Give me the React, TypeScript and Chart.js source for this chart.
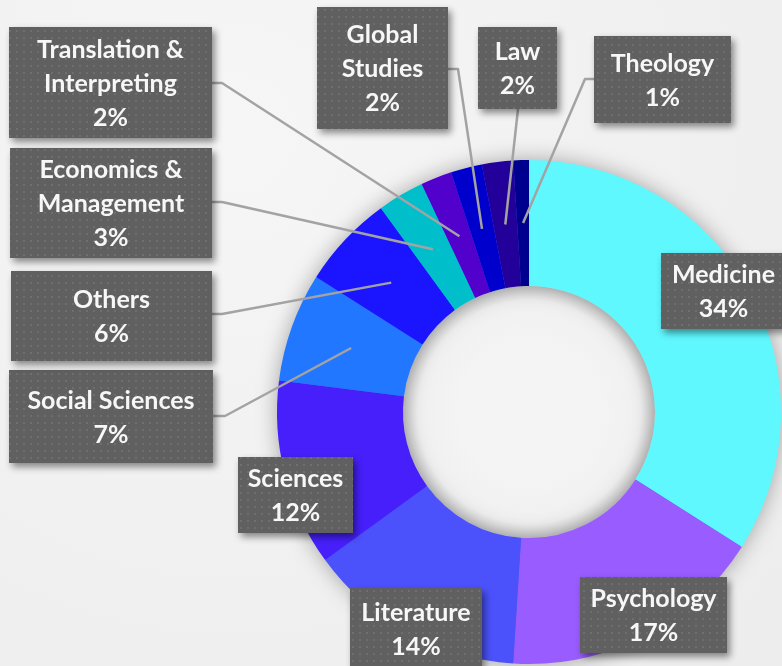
import { useEffect, useRef } from 'react';
import { Chart, registerables } from 'chart.js';

Chart.register(...registerables);

const categories = [
  'Medicine',
  'Psychology',
  'Literature',
  'Sciences',
  'Social Sciences',
  'Others',
  'Economics & Management',
  'Translation & Interpreting',
  'Global Studies',
  'Law',
  'Theology',
];
const shares = [34, 17, 14, 12, 7, 6, 3, 2, 2, 2, 1];
const labelLines = [
  ['Medicine'],
  ['Psychology'],
  ['Literature'],
  ['Sciences'],
  ['Social Sciences'],
  ['Others'],
  ['Economics &', 'Management'],
  ['Translation &', 'Interpreting'],
  ['Global', 'Studies'],
  ['Law'],
  ['Theology'],
];
const sliceColors = [
  '#5ff8fe',
  '#995cff',
  '#4b52fc',
  '#461ffb',
  '#2177ff',
  '#1a14ff',
  '#00bfcb',
  '#5200cc',
  '#0000cc',
  '#220099',
  '#00008f',
];

// label box layout: [x, y, w, h]
const boxes: number[][] = [
  [661, 253, 125, 76],
  [580, 577, 147, 76],
  [350, 588, 132, 82],
  [238, 457, 115, 76],
  [9, 370, 204, 93],
  [11, 271, 201, 90],
  [10, 148, 202, 110],
  [9, 27, 203, 111],
  [317, 7, 131, 122],
  [478, 27, 79, 82],
  [594, 36, 137, 87],
];
// leader line: start point on box edge, elbow point (null = no line)
const leaders: (number[] | null)[] = [
  null,
  null,
  null,
  null,
  [213, 416, 225, 416],
  [212, 314, 222, 314],
  [212, 202, 222, 202],
  [212, 83, 222, 83],
  [448, 69, 458, 69],
  [518, 109, 518, 109],
  [594, 79, 585, 79],
];

function makePattern(ctx: CanvasRenderingContext2D) {
  const c = document.createElement('canvas');
  c.width = 7;
  c.height = 7;
  const p = c.getContext('2d')!;
  p.fillStyle = '#606060';
  p.fillRect(0, 0, 7, 7);
  p.fillStyle = '#6e6e6e';
  p.fillRect(2, 2, 2, 2);
  return ctx.createPattern(c, 'repeat');
}

const decorPlugin = {
  id: 'decor',
  beforeDatasetsDraw(chart: any) {
    const meta = chart.getDatasetMeta(0);
    const arc = meta.data[0];
    if (!arc) return;
    const { x, y, outerRadius, innerRadius } = arc.getProps(['x', 'y', 'outerRadius', 'innerRadius']);
    const ctx = chart.ctx as CanvasRenderingContext2D;
    // hole shading
    ctx.save();
    const g = ctx.createRadialGradient(x, y, innerRadius * 0.55, x, y, innerRadius);
    g.addColorStop(0, '#f4f4f4');
    g.addColorStop(0.75, '#f0f0f0');
    g.addColorStop(1, '#d4d4d4');
    ctx.beginPath();
    ctx.arc(x, y, innerRadius, 0, Math.PI * 2);
    ctx.fillStyle = g;
    ctx.fill();
    ctx.restore();
    // ring shadow
    ctx.save();
    ctx.shadowColor = 'rgba(0,0,0,0.35)';
    ctx.shadowBlur = 22;
    ctx.beginPath();
    ctx.arc(x, y, outerRadius - 1, 0, Math.PI * 2);
    ctx.arc(x, y, innerRadius + 1, 0, Math.PI * 2, true);
    ctx.closePath();
    ctx.fillStyle = '#5060f0';
    ctx.fill();
    ctx.restore();
  },
  afterDatasetsDraw(chart: any) {
    const ctx = chart.ctx as CanvasRenderingContext2D;
    const meta = chart.getDatasetMeta(0);
    const pattern = makePattern(ctx);
    // leader lines
    ctx.save();
    ctx.strokeStyle = '#a3a3a3';
    ctx.lineWidth = 2.5;
    ctx.lineJoin = 'round';
    meta.data.forEach((el: any, i: number) => {
      const l = leaders[i];
      if (!l) return;
      const pt = el.getCenterPoint();
      ctx.beginPath();
      ctx.moveTo(l[0], l[1]);
      ctx.lineTo(l[2], l[3]);
      ctx.lineTo(pt.x, pt.y);
      ctx.stroke();
    });
    ctx.restore();
    // boxes
    meta.data.forEach((_el: any, i: number) => {
      const [bx, by, bw, bh] = boxes[i];
      ctx.save();
      ctx.shadowColor = 'rgba(0,0,0,0.45)';
      ctx.shadowBlur = 7;
      ctx.shadowOffsetX = 3;
      ctx.shadowOffsetY = 4;
      ctx.fillStyle = '#606060';
      ctx.fillRect(bx, by, bw, bh);
      ctx.restore();
      ctx.save();
      ctx.fillStyle = pattern as any;
      ctx.fillRect(bx, by, bw, bh);
      ctx.restore();
      const lines = [...labelLines[i], shares[i] + '%'];
      const lh = 34;
      ctx.save();
      ctx.fillStyle = '#f7f7f7';
      ctx.font = 'bold 25px Lato';
      ctx.textAlign = 'center';
      ctx.textBaseline = 'middle';
      const cx = bx + bw / 2;
      const cy = by + bh / 2 + 1;
      const top = cy - ((lines.length - 1) * lh) / 2;
      lines.forEach((t, k) => ctx.fillText(t, cx, top + k * lh));
      ctx.restore();
    });
  },
};

export default function App() {
  const ref = useRef<HTMLCanvasElement>(null);
  useEffect(() => {
    const canvas = ref.current!;
    const chart = new Chart(canvas, {
      type: 'doughnut',
      data: {
        labels: categories,
        datasets: [
          {
            data: shares,
            backgroundColor: sliceColors,
            borderWidth: 0,
          },
        ],
      },
      options: {
        responsive: false,
        animation: false,
        cutout: '50%',
        layout: { padding: { left: 277, right: 1, top: 160, bottom: 2 } },
        plugins: {
          legend: { display: false },
          tooltip: { enabled: false },
        },
      },
      plugins: [decorPlugin],
    });
    return () => chart.destroy();
  }, []);
  return (
    <div
      style={{
        position: 'absolute',
        left: 0,
        top: 0,
        width: 782,
        height: 666,
        overflow: 'hidden',
        background: 'radial-gradient(circle at 30% 20%, #f6f6f6 0%, #f0f0f0 60%, #ededed 100%)',
      }}
    >
      <canvas ref={ref} width={782} height={666} style={{ display: 'block' }} />
    </div>
  );
}
